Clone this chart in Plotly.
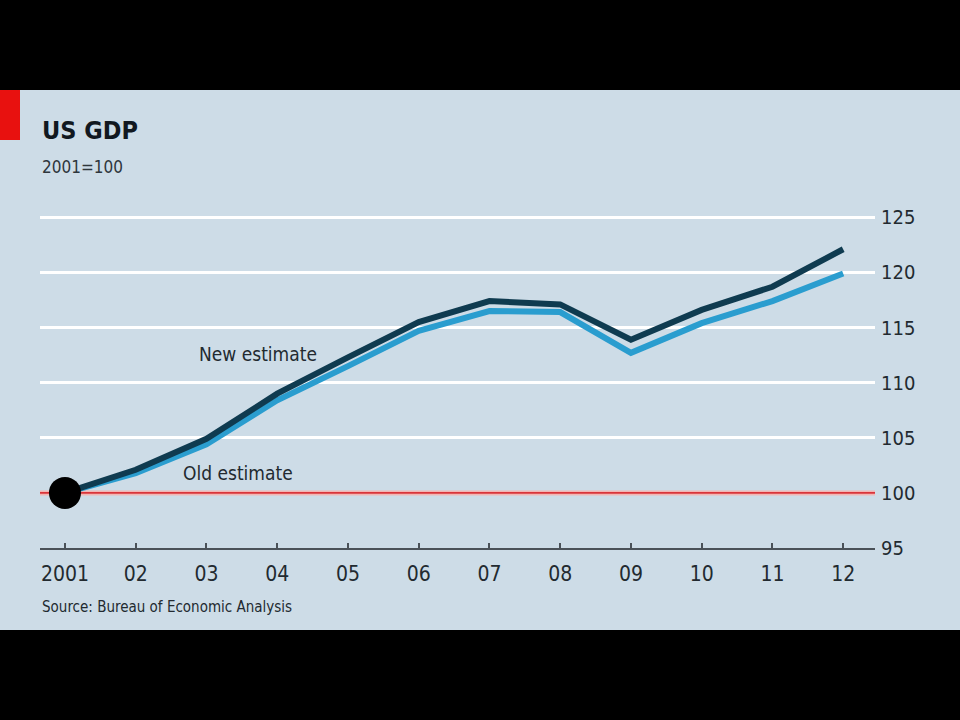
import plotly.graph_objects as go

# ------------------------------------------------------------
# Data (2001=100)
# ------------------------------------------------------------
years = [2001, 2002, 2003, 2004, 2005, 2006, 2007, 2008, 2009, 2010, 2011, 2012]
year_labels = ['2001', '02', '03', '04', '05', '06', '07', '08', '09', '10', '11', '12']
new_estimate = [100.0, 102.1, 104.9, 109.0, 112.3, 115.5, 117.4, 117.1, 113.9, 116.6, 118.7, 122.1]
old_estimate = [100.0, 101.8, 104.4, 108.4, 111.5, 114.7, 116.5, 116.4, 112.7, 115.4, 117.4, 119.9]
y_ticks = [95, 100, 105, 110, 115, 120, 125]

FONT = 'Liberation Sans Narrow, DejaVu Sans Condensed, Roboto, sans-serif'
PANEL = '#cddce7'
TEXT = '#222a30'

# plot area in pixels: x 40..875, y 214..548
PH = 334.0
PW = 835.0

def py(pixel_y):
    # page pixel row -> paper y
    return (548 - pixel_y) / PH

def px_(pixel_x):
    return (pixel_x - 40) / PW

x_range = [2000.647, 2012.45]

fig = go.Figure()

# 100 baseline in red
fig.add_trace(go.Scatter(
    x=x_range, y=[100, 100], mode='lines',
    line=dict(color='#f2b6b4', width=5), hoverinfo='skip', showlegend=False
))
fig.add_trace(go.Scatter(
    x=x_range, y=[100, 100], mode='lines',
    line=dict(color='#d9343a', width=1.8), hoverinfo='skip', showlegend=False
))

fig.add_trace(go.Scatter(
    x=years, y=old_estimate, mode='lines', name='Old estimate',
    line=dict(color='#2a9dcf', width=6), showlegend=False
))
fig.add_trace(go.Scatter(
    x=years, y=new_estimate, mode='lines', name='New estimate',
    line=dict(color='#0f3b50', width=6), showlegend=False
))

# base-year marker
fig.add_trace(go.Scatter(
    x=[years[0]], y=[new_estimate[0]], mode='markers',
    marker=dict(color='black', size=32), hoverinfo='skip', showlegend=False
))

fig.add_annotation(x=2003.73, y=112.6, text='New estimate', showarrow=False,
                   font=dict(family=FONT, size=19, color=TEXT))
fig.add_annotation(x=2003.45, y=101.8, text='Old estimate', showarrow=False,
                   font=dict(family=FONT, size=19, color=TEXT))

# panel background and red tab
fig.add_shape(type='rect', xref='paper', yref='paper', layer='below',
              x0=px_(0), x1=px_(960), y0=py(630), y1=py(90),
              fillcolor=PANEL, line=dict(width=0))
fig.add_shape(type='rect', xref='paper', yref='paper', layer='below',
              x0=px_(0), x1=px_(20), y0=py(140), y1=py(90),
              fillcolor='#e8110f', line=dict(width=0))

fig.add_annotation(xref='paper', yref='paper', x=0, y=py(130), xanchor='left', yanchor='middle',
                   text='<b>US GDP</b>', showarrow=False,
                   font=dict(family=FONT, size=25, color='#111820'))
fig.add_annotation(xref='paper', yref='paper', x=0, y=py(167), xanchor='left', yanchor='middle',
                   text='2001=100', showarrow=False,
                   font=dict(family=FONT, size=17, color='#2e363c'))
fig.add_annotation(xref='paper', yref='paper', x=0, y=py(607), xanchor='left', yanchor='middle',
                   text='Source: Bureau of Economic Analysis', showarrow=False,
                   font=dict(family=FONT, size=15, color=TEXT))

fig.update_layout(
    width=960, height=720,
    margin=dict(l=40, r=85, t=214, b=172),
    paper_bgcolor='black',
    plot_bgcolor=PANEL,
    xaxis=dict(
        range=x_range, tickvals=years, ticktext=year_labels,
        showgrid=False, zeroline=False,
        showline=True, linecolor='#4a5158', linewidth=2,
        ticks='inside', ticklen=5, tickwidth=1.5, tickcolor='#4a5158',
        ticklabelstandoff=6,
        tickfont=dict(family=FONT, size=21, color=TEXT),
        fixedrange=True
    ),
    yaxis=dict(
        range=[95, 125.3], tickvals=y_ticks, side='right',
        showgrid=True, gridcolor='white', gridwidth=3,
        zeroline=False, showline=False, ticks='',
        ticklabelstandoff=5,
        tickfont=dict(family=FONT, size=20, color=TEXT),
        fixedrange=True
    ),
)

fig.write_html('out.html', config={'displayModeBar': False},
               post_script="document.body.style.margin='0';")
